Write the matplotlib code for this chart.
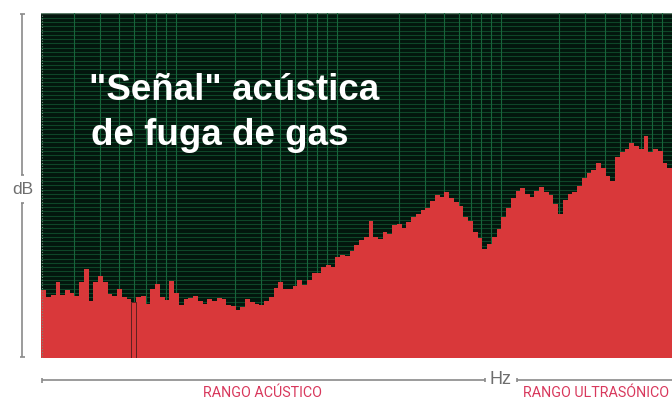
import numpy as np
import matplotlib
matplotlib.use("Agg")
import matplotlib.pyplot as plt
from matplotlib.lines import Line2D

# ---- data (relative level, % of axis height) per frequency band ----
levels = [19.7, 17.6, 18.2, 21.9, 18.2, 19.6, 18.8, 18.0, 21.9, 25.7,
          16.4, 21.9, 23.7, 21.9, 18.4, 18.0, 19.9, 17.6, 17.0, 16.1,
          17.6, 18.0, 15.6, 19.9, 21.4, 17.6, 16.7, 22.2, 18.7, 15.3,
          17.0, 17.3, 17.9, 16.4, 15.6, 17.0, 16.4, 17.3, 17.0, 15.3,
          15.0, 13.9, 14.7, 17.0, 16.1, 15.5, 15.3, 16.4, 17.6, 20.2,
          21.9, 20.0, 20.0, 20.8, 22.5, 21.1, 22.5, 24.5, 24.5, 26.3,
          26.9, 26.3, 29.2, 29.8, 29.5, 30.9, 32.7, 34.1, 35.0, 39.7,
          35.0, 34.4, 36.5, 35.9, 38.5, 38.8, 37.6, 39.4, 40.8, 41.7,
          42.9, 43.4, 45.5, 47.2, 46.6, 48.1, 46.3, 45.2, 44.0, 40.8,
          39.7, 36.5, 34.7, 31.5, 33.0, 35.0, 37.3, 40.8, 43.4, 46.3,
          48.4, 49.2, 47.5, 46.6, 48.4, 49.5, 48.1, 47.2, 44.6, 41.7,
          45.8, 47.5, 48.1, 49.8, 52.1, 53.6, 54.5, 56.5, 55.1, 52.7,
          51.3, 58.3, 59.7, 60.6, 62.3, 61.4, 60.6, 64.4, 59.7, 60.6,
          60.0, 56.5, 55.1]

title_lines = ['"Señal" acústica', 'de fuga de gas']
y_label = "dB"
x_label = "Hz"
range_labels = ["RANGO ACÚSTICO", "RANGO ULTRASÓNICO"]

# ---- style ----
W, H = 672, 401
BG = "#03160d"
HGRID = "#0e4628"
VGRID = "#17653b"
BAR = "#d9383a"
AXIS = "#8a8a8a"
TXT = "#6e6e6e"
RANGE = "#d8385c"

plt.rcParams["font.family"] = ["Roboto", "DejaVu Sans"]

fig = plt.figure(figsize=(W / 100, H / 100), dpi=100)
fig.patch.set_facecolor("white")

def fx(px):
    return px / W

def fy(py):
    return 1 - py / H

left_px, top_px, bottom_px = 41.3, 13.3, 357.5
ax = fig.add_axes([fx(left_px), fy(bottom_px), 1 - fx(left_px), (bottom_px - top_px) / H])
ax.set_facecolor(BG)
n = len(levels)
ax.set_xlim(0, n)
ax.set_ylim(0, 100)
for s in ax.spines.values():
    s.set_visible(False)
ax.set_xticks([])
ax.set_yticks([])

# horizontal grid
n_h = 80
for k in range(n_h + 1):
    ax.axhline(k * 100 / n_h, color=HGRID, lw=0.8, zorder=1)
ax.axhline(100, color="#5f7f6c", lw=1.0, zorder=1)

# vertical (pseudo-log) grid, in band units
decade_starts = [-5.55, 28.41, 62.93, 96.79, 129.84]
decade_width = 34.0
fracs = [0.365, 0.527, 0.647, 0.741, 0.812, 0.874, 0.938, 1.0]
for d in decade_starts:
    for f in fracs:
        x = d + f * decade_width
        if 0 < x < n:
            ax.axvline(x, color=VGRID, lw=0.8, zorder=2)

# bars as filled stairs
edges = np.arange(n + 1)
ax.stairs(levels, edges, fill=True, color=BAR, zorder=3, linewidth=0)
# thin dark seam bar
gap_idx = 19
ax.bar(gap_idx, levels[gap_idx], width=1.0, align="edge", color=BAR,
       edgecolor="#4a1c1c", linewidth=0.6, zorder=4)

# left dotted edge
ax.axvline(0.05, color="#6f8f7c", lw=0.8, ls=(0, (1, 1.5)), zorder=5)

# title
title_kw = dict(color="white", fontsize=26.5, fontweight="bold", ha="left", va="baseline",
                family=["Liberation Sans", "DejaVu Sans"])
fig.text(fx(89), fy(100), title_lines[0], **title_kw)
fig.text(fx(91), fy(145), title_lines[1], **title_kw)

# left axis with label
def seg(x0, y0, x1, y1, lw=1.2):
    fig.add_artist(Line2D([fx(x0), fx(x1)], [fy(y0), fy(y1)], color=AXIS, lw=lw,
                          transform=fig.transFigure, solid_capstyle="butt"))

ax_x = 22.3
seg(ax_x, 14, ax_x, 175)
seg(ax_x, 203, ax_x, 357.3)
seg(19.8, 14, 24.8, 14)
seg(19.8, 357.3, 24.8, 357.3)
seg(20.5, 175, 24.2, 175)
seg(20.5, 203, 24.2, 203)
fig.text(fx(22.5), fy(189), y_label, color=TXT, fontsize=12.5, ha="center", va="center",
         family=["Liberation Sans", "DejaVu Sans"])

# bottom axis with label
ay = 380
seg(42.3, ay, 484.7, ay)
seg(517, ay, 672, ay)
seg(42.3, ay - 2.5, 42.3, ay + 2.5)
seg(484.7, ay - 2, 484.7, ay + 2)
seg(517, ay - 2, 517, ay + 2)
fig.text(fx(500.5), fy(379), x_label, color=TXT, fontsize=13, ha="center", va="center",
         family=["Liberation Sans", "DejaVu Sans"])

fig.text(fx(203), fy(397), range_labels[0], color=RANGE, fontsize=10.3, ha="left", va="baseline")
fig.text(fx(523), fy(397), range_labels[1], color=RANGE, fontsize=10.3, ha="left", va="baseline")

fig.savefig("out.png", dpi=100, facecolor="white")
